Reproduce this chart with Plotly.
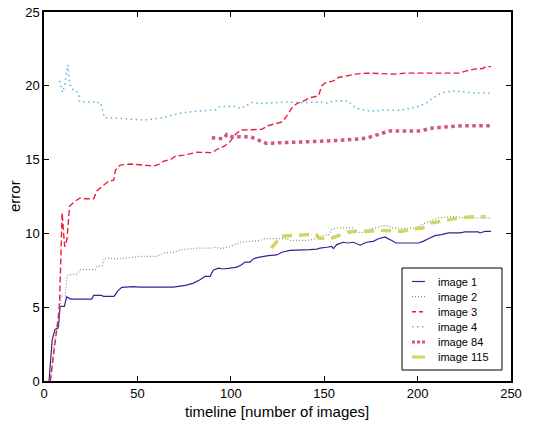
import plotly.graph_objects as go

# image 1
t1 = [2.7, 4.4, 5.9, 7.7, 8.6, 10.9, 12.1, 14.3, 25.5, 26.6, 30.9, 31.8, 37.5, 39.3, 41.6, 46, 47.8, 51.4,
      65.7, 69.2, 76.4, 80, 83.5, 86.2, 88.9, 90.6, 93.3, 96, 99.6, 103.2, 105.8, 107.6, 110.3, 112,
      114.7, 117.4, 120.1, 124.6, 127.3, 131.7, 135.3, 138.8, 142.4, 146, 147.8, 151.3, 154, 154.9,
      156.7, 160.2, 162.9, 165.6, 169.2, 172.7, 176.3, 179, 182.5, 185.2, 188.4, 200.4, 203, 205.7,
      209.3, 212.9, 216.4, 222.7, 225.4, 232.5, 233.4, 236, 239.3]
e1 = [0, 2.8, 3.5, 3.6, 5.05, 5.05, 5.7, 5.55, 5.55, 5.8, 5.8, 5.73, 5.73, 6.07, 6.34, 6.36, 6.4, 6.36,
      6.4, 6.36, 6.5, 6.63, 6.86, 7.09, 7.09, 7.5, 7.65, 7.59, 7.65, 7.72, 7.88, 8.06, 8.06, 8.27,
      8.38, 8.45, 8.49, 8.54, 8.72, 8.85, 8.85, 8.9, 8.9, 8.94, 9.0, 9.06, 9.12, 8.97,
      9.24, 9.4, 9.35, 9.4, 9.2, 9.4, 9.46, 9.64, 9.76, 9.58, 9.35, 9.35, 9.46, 9.64,
      9.85, 9.92, 10.03, 10.03, 10.1, 10.1, 10.03, 10.14, 10.14]

# image 2
t2 = [3.4, 6.1, 7.8, 9.1, 11.4, 12.3, 13.2, 17.7, 19.4, 27.4, 28.7, 31.1, 32.3, 34.6, 39.1, 44.4, 51.6,
      60.5, 64, 69.4, 73, 78.4, 81.9, 89.1, 91.8, 95.3, 99.8, 105.1, 114.9, 118.5, 130, 131, 140.8,
      145.3, 148, 152.5, 154.2, 156.9, 165, 166.6, 172.7, 174.5, 178, 181.5, 184.2, 186.8, 192.2,
      198.4, 202, 206.3, 210.8, 215.3, 220.6, 223.4, 239.3]
e2 = [0, 3.3, 3.7, 5.77, 5.77, 7.09, 7.2, 7.25, 7.54, 7.54, 7.8, 7.8, 8.33, 8.33, 8.27, 8.33, 8.45,
      8.45, 8.67, 8.72, 8.9, 8.95, 9.0, 9.0, 9.06, 8.97, 9.12, 9.4, 9.51, 9.64, 9.64, 9.53, 9.53,
      9.63, 9.8, 9.92, 10.3, 10.37, 10.37, 10.08, 10.05, 10.3, 10.37, 10.53, 10.5, 10.37, 10.33,
      10.37, 10.55, 10.82, 11.05, 11.12, 11.16, 11.05, 11.05]

# image 3
t3 = [3.4, 4.9, 6.7, 7.9, 8.4, 9.7, 10.5, 11.1, 12.3, 13.7, 16.8, 19.4, 22.1, 26.6, 28.4, 31.1, 34.6,
      37.3, 38.2, 40.8, 46.2, 51.6, 58.7, 61.4, 64.1, 67.7, 70.4, 74.8, 82, 90, 92.7, 96.3, 99,
      102.5, 105.1, 116.7, 119.4, 127.4, 130, 132.7, 135.4, 138.9, 142.5, 146.9, 148.7, 150.5,
      154.9, 157.6, 162.1, 166.6, 172.9, 188.4, 193, 197.4, 222.5, 226, 230.4, 234.9, 236.5, 239.3]
e3 = [0, 1.65, 3.46, 4.6, 5.6, 11.4, 10.0, 9.1, 9.6, 11.85, 12.2, 12.4, 12.35, 12.35, 12.9, 13.2, 13.54,
      13.6, 14.28, 14.63, 14.7, 14.65, 14.56, 14.67, 14.9, 15.0, 15.24, 15.3, 15.5, 15.47, 15.7, 15.9,
      16.14, 16.7, 17.0, 17.05, 17.28, 17.55, 17.96, 18.5, 18.8, 18.97, 19.2, 19.31, 20.0, 20.2,
      20.33, 20.56, 20.67, 20.79, 20.86, 20.79, 20.86, 20.86, 20.86, 21.01, 21.13, 21.17, 21.3, 21.3]

# image 4
t4 = [8.4, 9.1, 10, 11.1, 12.3, 12.8, 13.7, 15, 16.8, 18.6, 19.1, 26.6, 28.4, 29.3, 30.5, 31.6, 32.3,
      39.1, 46.2, 53.3, 62.2, 65.7, 69.3, 73.8, 81.8, 87.1, 91.7, 94.3, 103.2, 105, 108.5, 112,
      114.7, 129.9, 137, 147.6, 152, 154.8, 162.8, 165.5, 169.1, 174.5, 177.9, 181.5, 190.4, 195.7,
      201, 204.6, 207.3, 209.9, 213.5, 217, 220.6, 226, 228.6, 238.4]
e4 = [20.33, 19.9, 19.55, 20.1, 21.24, 21.42, 20.2, 19.77, 19.72, 19.43, 18.9, 18.9, 18.8, 18.9, 18.8,
      18.25, 17.85, 17.8, 17.73, 17.68, 17.8, 17.9, 18.0, 18.16, 18.28, 18.32, 18.36, 18.6, 18.6,
      18.45, 18.68, 18.9, 18.8, 18.9, 18.86, 18.9, 18.82, 18.97, 18.97, 18.63, 18.41, 18.3, 18.3,
      18.36, 18.34, 18.45, 18.63, 18.82, 19.09, 19.31, 19.53, 19.62, 19.65, 19.6, 19.53, 19.5]

# image 84
t84 = [89.8, 96, 97.9, 100.5, 110.3, 114.7, 119.1, 126.2, 147.6, 151.2, 161.8, 167.2, 172.6, 176.3,
       180.6, 184.9, 200.9, 204.4, 208, 216.9, 224, 239.1]
e84 = [16.48, 16.41, 16.7, 16.55, 16.55, 16.33, 16.1, 16.14, 16.2, 16.26, 16.33, 16.37, 16.45, 16.6,
       16.78, 16.94, 16.94, 17.05, 17.14, 17.23, 17.3, 17.3]

# image 115
t115 = [121.7, 123.5, 125.2, 126.1, 130.6, 136.8, 142.2, 145.7, 147.1, 152.8, 156.4, 162.6, 167.1,
        174.2, 179.5, 186.6, 191.9, 197.3, 202.6, 207.1, 213.3, 218.6, 222.2, 229.3, 236.4]
e115 = [9.0, 9.24, 9.53, 9.8, 9.85, 9.88, 9.92, 9.92, 9.69, 9.63, 9.8, 10.08, 10.14,
        10.14, 10.21, 10.14, 10.14, 10.3, 10.37, 10.7, 10.82, 10.98, 11.05, 11.12, 11.12]

# name, x, y, colour, width, dash on plot, dash in legend
series = [
    ("image 1", t1, e1, "#3d1f8f", 1.2, "solid", "solid"),
    ("image 2", t2, e2, "#6f9c82", 1.2, "1px,2px", "1px,2px"),
    ("image 3", t3, e3, "#e8203c", 1.4, "6px,3px", "4px,3px"),
    ("image 4", t4, e4, "#5ab2e2", 1.5, "1.5px,3.5px", "1.5px,3.5px"),
    ("image 84", t84, e84, "#d4557f", 3.5, "3.5px,3.5px", "3px,2px"),
    ("image 115", t115, e115, "#d6d264", 3.5, "10px,7px", "solid"),
]

W, H = 540, 427
L, R, T, B = 44, 29, 12, 46
pw, ph = W - L - R, H - T - B


# window pixel -> paper coords
def px(x):
    return (x - L) / pw


def py(y):
    return (H - B - y) / ph


fig = go.Figure()
for name, xs, ys, col, w, dash, _ in series:
    fig.add_trace(go.Scatter(x=xs, y=ys, name=name, mode="lines", showlegend=False,
                             line=dict(color=col, width=w, dash=dash)))

# hand-drawn legend box (native legend rows are too tall)
shapes = [dict(type="rect", xref="paper", yref="paper",
               x0=px(402), x1=px(502), y0=py(370), y1=py(268),
               line=dict(color="black", width=1), fillcolor="white", layer="above")]
annotations = []
for i, (name, xs, ys, col, w, dash, ldash) in enumerate(series):
    yy = py(281.5 + i * 15.1)
    shapes.append(dict(type="line", xref="paper", yref="paper",
                       x0=px(412), x1=px(425), y0=yy, y1=yy, layer="above",
                       line=dict(color=col, width=min(w, 3), dash=ldash)))
    annotations.append(dict(text=name, xref="paper", yref="paper", x=px(436), y=yy,
                             xanchor="left", yanchor="middle", showarrow=False,
                             font=dict(size=11, color="black")))

annotations.append(dict(text="timeline [number of images]", xref="paper", yref="paper",
                        x=px(277), y=py(412), xanchor="center", yanchor="middle",
                        showarrow=False, font=dict(size=15, color="black")))
annotations.append(dict(text="error", xref="paper", yref="paper", textangle=-90,
                        x=px(14), y=py(196), xanchor="center", yanchor="middle",
                        showarrow=False, font=dict(size=15, color="black")))

axis_common = dict(
    showline=True, linecolor="black", linewidth=1.5, mirror="ticks",
    ticks="inside", ticklen=5, tickcolor="black", tickwidth=1,
    showgrid=False, zeroline=False, automargin=False,
    tickfont=dict(size=13, color="black"),
)

fig.update_layout(
    width=W, height=H,
    margin=dict(l=L, r=R, t=T, b=B),
    paper_bgcolor="white", plot_bgcolor="white",
    font=dict(family="Liberation Sans, Arial, sans-serif", color="black"),
    xaxis=dict(range=[0, 250], dtick=50, **axis_common),
    yaxis=dict(range=[0, 25], dtick=5, **axis_common),
    shapes=shapes,
    annotations=annotations,
    showlegend=False,
)

# drop the page's default 8px body margin so the figure sits at the window corner
fig.write_html("out.html", config={"displayModeBar": False},
               post_script="document.body.style.margin='0';")
